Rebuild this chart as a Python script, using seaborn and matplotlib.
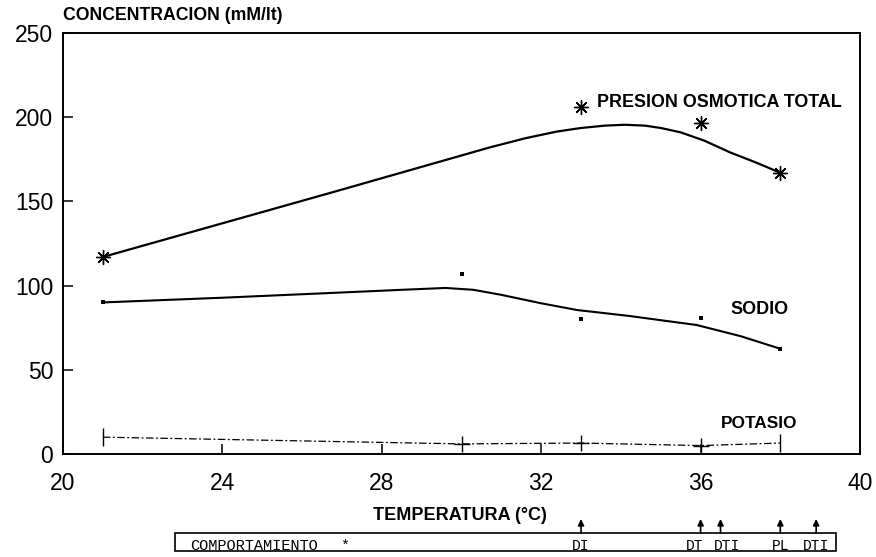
import matplotlib
matplotlib.use("Agg")
import matplotlib.pyplot as plt
import seaborn as sns
from matplotlib.patches import Rectangle

# ---- data ----
presion_temp = [21, 33, 36, 38]
presion_vals = [117, 206, 196.5, 167]

sodio_temp = [21, 30, 33, 36, 38]
sodio_vals = [90, 107, 80, 81, 62.5]

potasio_temp = [21, 30, 33, 36, 38]
potasio_vals = [10, 6, 6.5, 5, 6.5]

# hand-drawn fitted curves
presion_curve_temp = [21, 24, 26.7, 28.7, 30.7, 31.6, 32.4, 33, 33.6, 34.1, 34.6, 35, 35.5, 36.1, 36.75, 37.4, 38]
presion_curve_vals = [117, 137, 155, 168.5, 182, 187.5, 191.5, 193.6, 195, 195.5, 195, 193.6, 191, 186, 179, 173, 167]

sodio_curve_temp = [21, 24, 26.7, 28.5, 29.6, 30.3, 31, 32, 32.9, 34.2, 35.9, 37, 38]
sodio_curve_vals = [90, 92.8, 95.6, 97.5, 98.6, 97.5, 94.5, 89.5, 85.5, 82, 76.6, 70, 62.5]

x_ticks = [20, 24, 28, 32, 36, 40]
y_ticks = [0, 50, 100, 150, 200, 250]

behavior_temps = [33, 36, 36.5, 38, 38.9]
behavior_labels = ["DI", "DT", "DTI", "PL", "DTI"]
behavior_label_temps = [33, 35.85, 36.65, 38, 38.9]

# ---- styling ----
sns.set_theme(style="white")
plt.rcParams["font.family"] = ["Liberation Sans", "DejaVu Sans"]

W, H = 876, 557
fig = plt.figure(figsize=(W / 100, H / 100), dpi=100)
fig.patch.set_facecolor("white")

ax_l, ax_r, ax_t, ax_b = 63, 860, 33, 454
ax = fig.add_axes([ax_l / W, 1 - ax_b / H, (ax_r - ax_l) / W, (ax_b - ax_t) / H])
ax.set_facecolor("white")

# curves
sns.lineplot(x=presion_curve_temp, y=presion_curve_vals, ax=ax, color="black", lw=1.6)
sns.lineplot(x=sodio_curve_temp, y=sodio_curve_vals, ax=ax, color="black", lw=1.5)
sns.lineplot(x=potasio_temp, y=potasio_vals, ax=ax, color="black", lw=0.9,
             linestyle=(0, (6, 2, 1.5, 2)))

# markers
sns.scatterplot(x=presion_temp, y=presion_vals, ax=ax, marker=(8, 2, 0), s=100,
                color="black", edgecolor="black", linewidth=1.0, zorder=5)
sns.scatterplot(x=sodio_temp, y=sodio_vals, ax=ax, marker="s", s=11,
                color="black", edgecolor="black", linewidth=0, zorder=5)
end_idx = [0, len(potasio_temp) - 1]
mid_idx = list(range(1, len(potasio_temp) - 1))
sns.scatterplot(x=[potasio_temp[i] for i in mid_idx], y=[potasio_vals[i] for i in mid_idx],
                ax=ax, marker="+", s=130, color="black", edgecolor="black",
                linewidth=1.0, zorder=5)
sns.scatterplot(x=[potasio_temp[i] for i in end_idx], y=[potasio_vals[i] for i in end_idx],
                ax=ax, marker="|", s=170, color="black", edgecolor="black",
                linewidth=1.0, zorder=5)

ax.set_xlim(20, 40)
ax.set_ylim(0, 250)
ax.set_xticks(x_ticks)
ax.set_yticks(y_ticks)
ax.set_xticklabels([str(v) for v in x_ticks])
ax.set_yticklabels([str(v) for v in y_ticks])
ax.tick_params(axis="both", direction="in", length=7, width=1.1, colors="black",
               labelsize=16.5, bottom=True, left=True, top=False, right=False)
ax.tick_params(axis="x", pad=13)
ax.tick_params(axis="y", pad=7)
for sp in ax.spines.values():
    sp.set_visible(True)
    sp.set_color("black")
    sp.set_linewidth(1.4)
ax.set_xlabel("")
ax.set_ylabel("")

# series labels
ax.text(33.4, 209, "PRESION OSMOTICA TOTAL", fontsize=12.9, fontweight="bold",
        ha="left", va="center", color="black")
ax.text(36.74, 86, "SODIO", fontsize=13, fontweight="bold",
        ha="left", va="center", color="black")
ax.text(36.5, 18.4, "POTASIO", fontsize=12.4, fontweight="bold",
        ha="left", va="center", color="black")

# axis titles
fig.text(ax_l / W, 1 - 15 / H, "CONCENTRACION (mM/lt)", fontsize=12.7,
         fontweight="bold", ha="left", va="center", color="black")
fig.text(460 / W, 1 - 515 / H, "TEMPERATURA (°C)", fontsize=13,
         fontweight="bold", ha="center", va="center", color="black")

# behaviour strip below the chart
bax = fig.add_axes([ax_l / W, 0, (ax_r - ax_l) / W, 42 / H])
bax.set_xlim(20, 40)
bax.set_ylim(0, 42)
bax.axis("off")
bax.add_patch(Rectangle((22.8, 6), 39.4 - 22.8, 18, fill=False,
                        edgecolor="black", lw=1.2, clip_on=False))
mono = ["Liberation Mono", "DejaVu Sans Mono"]
bax.text(23.19, 7.5, "COMPORTAMIENTO", family=mono, fontsize=11,
         ha="left", va="baseline", color="black")
bax.text(27.08, 7.5, "*", family=mono, fontsize=11,
         ha="center", va="baseline", color="black")
for t in behavior_temps:
    bax.annotate("", xy=(t, 38), xytext=(t, 24),
                 arrowprops=dict(arrowstyle="-|>", color="black", lw=1.2,
                                 mutation_scale=9, shrinkA=0, shrinkB=0),
                 annotation_clip=False)
for t, lab in zip(behavior_label_temps, behavior_labels):
    bax.text(t, 7.5, lab, family=mono, fontsize=10.5,
             ha="center", va="baseline", color="black")

fig.savefig("out.png", dpi=100, facecolor="white")
